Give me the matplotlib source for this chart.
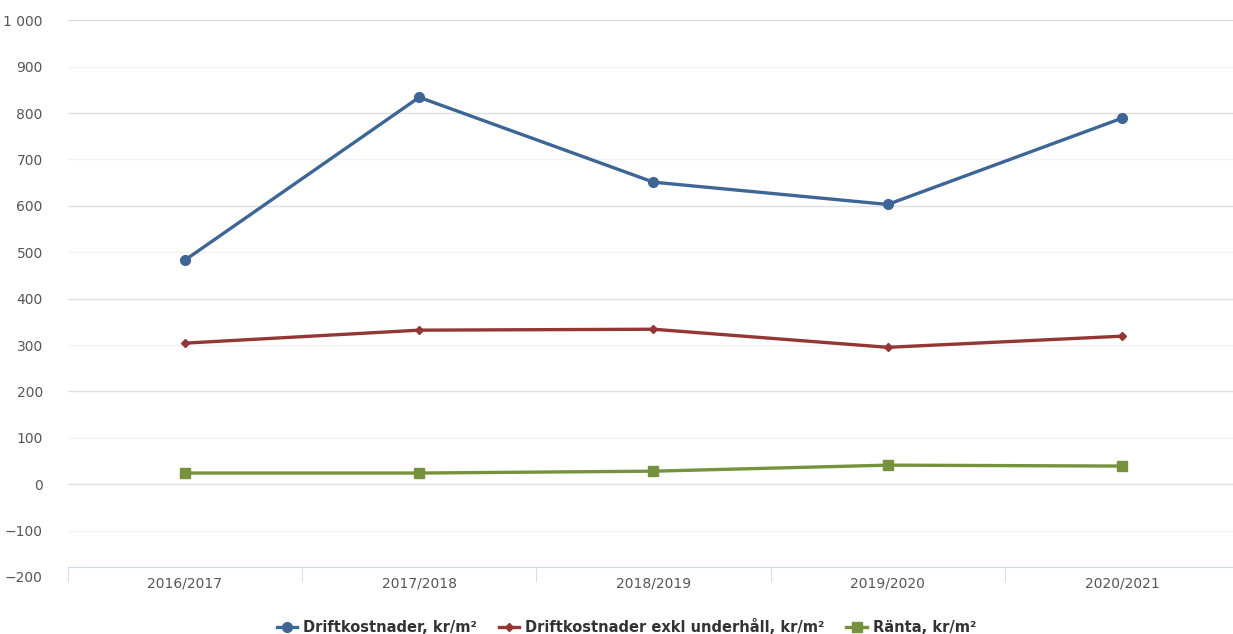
import matplotlib.pyplot as plt
import numpy as np

years = ["2016/2017", "2017/2018", "2018/2019", "2019/2020", "2020/2021"]
drift = [483, 834, 651, 603, 789]
drift_exkl = [304, 332, 334, 295, 319]
ranta = [24, 24, 28, 41, 39]
yticks = [-200, -100, 0, 100, 200, 300, 400, 500, 600, 700, 800, 900, 1000]


def fmt(v):
    s = f"{abs(v):,}".replace(",", " ")
    return ("\u2212" if v < 0 else "") + s


def main():
    fig = plt.figure(figsize=(12.33, 6.34), dpi=100)
    ax = fig.add_axes([0.055, 0.09, 0.95, 0.878])
    x = np.arange(len(years))

    for v in yticks:
        c = "#e0e0e0" if (v // 100) % 2 == 0 else "#f3f3f3"
        if v > -200:
            ax.axhline(v, color=c, lw=1, zorder=0)

    ax.plot(x, drift, color="#3d6595", lw=2.4, marker="o", ms=7,
            label="Driftkostnader, kr/m²", zorder=3)
    ax.plot(x, drift_exkl, color="#943634", lw=2.4, marker="D", ms=4.5,
            label="Driftkostnader exkl underhåll, kr/m²", zorder=3)
    ax.plot(x, ranta, color="#76923c", lw=2.4, marker="s", ms=7,
            label="Ränta, kr/m²", zorder=3)

    ax.set_xlim(-0.5, 4.48)
    ax.set_ylim(-200, 1000)
    ax.set_yticks(yticks)
    ax.set_yticklabels([fmt(v) for v in yticks])
    ax.set_xticks(x)
    ax.set_xticklabels(years)
    ax.set_xticks(np.arange(-0.5, 4.6, 1), minor=True)
    ax.tick_params(axis="x", which="major", length=0, pad=7,
                   labelsize=10, labelcolor="#555555")
    ax.tick_params(axis="x", which="minor", length=11, color="#ccd6eb",
                   direction="out")
    ax.tick_params(axis="y", length=0, pad=18, labelsize=10,
                   labelcolor="#555555")

    for s in ["top", "right", "left"]:
        ax.spines[s].set_visible(False)
    ax.spines["bottom"].set_position(("data", -178))
    ax.spines["bottom"].set_color("#ccd6eb")

    leg = fig.legend(loc="lower center", ncol=3, frameon=False,
                     bbox_to_anchor=(0.508, -0.022), fontsize=10.5,
                     handlelength=1.4, columnspacing=1.5, handletextpad=0.4)
    for t in leg.get_texts():
        t.set_color("#333333")
        t.set_fontweight("bold")

    fig.savefig("out.png")


if __name__ == "__main__":
    main()
